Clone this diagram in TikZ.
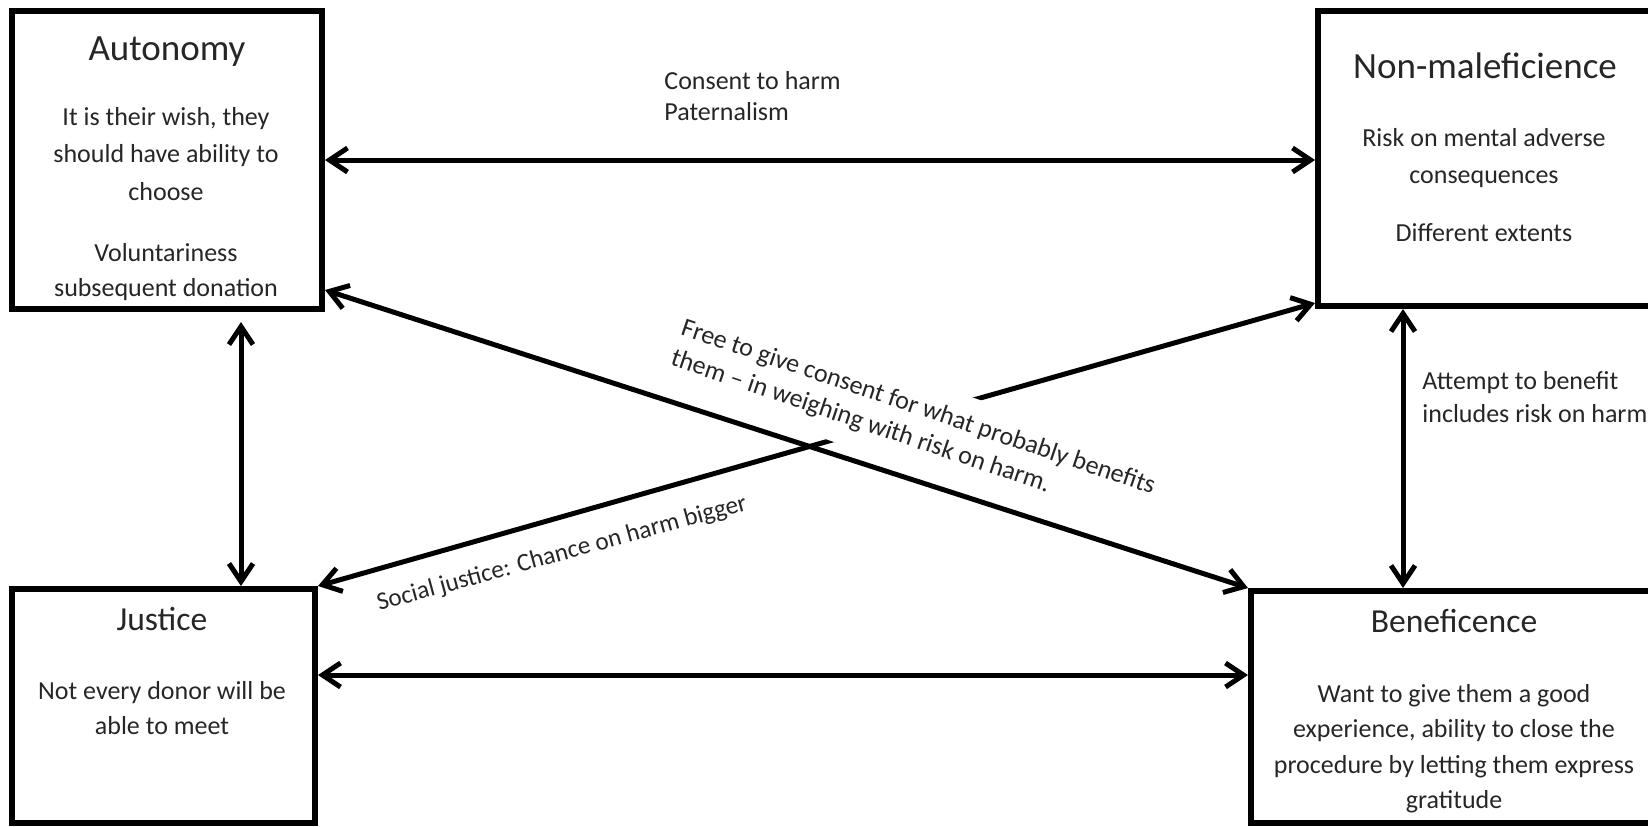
\documentclass[tikz,border=0pt]{standalone}
\usepackage{fontspec}
\setmainfont{Carlito}
\usetikzlibrary{arrows.meta}
\definecolor{txt}{RGB}{38,38,38}
\begin{document}
\begin{tikzpicture}[x=0.5pt,y=-0.5pt,
  box/.style={draw, line width=3pt, inner sep=0pt},
  ttlA/.style={font=\fontsize{18.5}{22}\selectfont, anchor=base, text=txt, inner sep=0pt},
  ttlB/.style={font=\fontsize{16.8}{20}\selectfont, anchor=base, text=txt, inner sep=0pt},
  body/.style={font=\fontsize{13}{16}\selectfont, anchor=base, text=txt, inner sep=0pt},
  lbl/.style={font=\fontsize{13}{16}\selectfont, anchor=base west, text=txt, inner sep=0pt},
  arr/.style={line width=2.5pt, {Straight Barb[length=9pt,width=12pt]}-{Straight Barb[length=9pt,width=12pt]}}]
\useasboundingbox (0,0) rectangle (1648,826);
\clip (0,0) rectangle (1648,826);

% boxes
\node[box, minimum width=155pt, minimum height=149pt] (auto) at (167,160) {};
\node[box, minimum width=168.5pt, minimum height=147.5pt] (nonmal) at (1486.5,158.5) {};
\node[box, minimum width=151.5pt, minimum height=117pt] (just) at (163.5,706) {};
\node[box, minimum width=203.5pt, minimum height=116pt] (bene) at (1454.5,707) {};

% Autonomy text
\node[ttlA] (t1) at (167,60) {Autonomy};
\node[body] (a1) at (166,125) {It is their wish, they};
\node[body] (a2) at (166,162) {should have ability to};
\node[body] (a3) at (166,200) {choose};
\node[body] (a4) at (166,261) {Voluntariness};
\node[body] (a5) at (166,296) {subsequent donation};

% Non-maleficience text
\node[ttlA] (t2) at (1485,78) {Non-maleficience};
\node[body] (n1) at (1484,146) {Risk on mental adverse};
\node[body] (n2) at (1484,183) {consequences};
\node[body] (n3) at (1484,241) {Different extents};

% Justice text
\node[ttlB] (t3) at (162,630) {Justice};
\node[body] (j1) at (162,699) {Not every donor will be};
\node[body] (j2) at (162,734) {able to meet};

% Beneficence text
\node[ttlB] (t4) at (1454,632) {Beneficence};
\node[body] (b1) at (1454,702) {Want to give them a good};
\node[body] (b2) at (1454,737) {experience, ability to close the};
\node[body] (b3) at (1454,773) {procedure by letting them express};
\node[body] (b4) at (1454,808) {gratitude};

% edge labels
\node[lbl] (c1) at (664,89) {Consent to harm};
\node[lbl] (c2) at (664,120) {Paternalism};
\node[lbl] (r1) at (1422,389) {Attempt to benefit};
\node[lbl] (r2) at (1422,422) {includes risk on harm};
\node[body, font=\fontsize{12.6}{16}\selectfont, anchor=center, rotate=15.3] (sj) at (562,554) {Social justice: Chance on harm bigger};

% connectors
\draw[arr] (just.north east) -- ([yshift=3pt]nonmal.south west);
\node[font=\fontsize{13}{16}\selectfont, align=left, rotate=-18.7, fill=white,
      inner xsep=3pt, inner ysep=8pt, text=txt] (fr) at (913,423)
  {Free to give consent for what probably benefits\\them – in weighing with risk on harm.};
\draw[arr] ([yshift=11pt]auto.south east) -- (bene.north west);

\draw[arr] (auto.east) -- (auto.east -| nonmal.west);

\coordinate (aj) at ([xshift=37pt]auto.south);
\draw[arr, shorten <=5pt] (aj) -- (aj |- just.north);

\coordinate (jb) at ([yshift=15.5pt]just.east);
\draw[arr] (jb) -- (jb -| bene.west);

\coordinate (nb) at ([xshift=-41.75pt]nonmal.south);
\draw[arr] (nb) -- (nb |- bene.north);
\end{tikzpicture}
\end{document}
